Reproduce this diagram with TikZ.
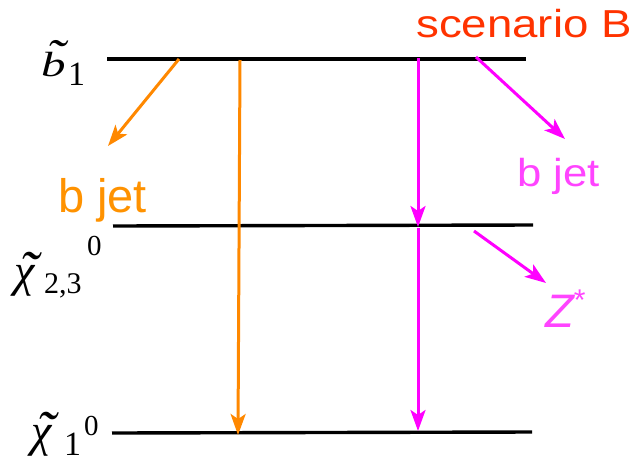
\documentclass[tikz,border=0pt]{standalone}
\usepackage{fontspec}
\setsansfont{Liberation Sans}
\newfontfamily\tms{Liberation Serif}
\usetikzlibrary{arrows.meta}
\definecolor{orng}{HTML}{FF8800}
\definecolor{orngtxt}{HTML}{FF9200}
\definecolor{mgnt}{HTML}{FF00FF}
\definecolor{mgnttxt}{HTML}{FF44FF}
\definecolor{scred}{HTML}{FF3300}
% letter with a wide tilde: #1 letter, #2 shift right, #3 raise, #4 x-scale, #5 y-scale
\newcommand{\tld}[5]{\ooalign{#1\cr\hidewidth\kern#2\kern#2\raisebox{#3}{\scalebox{#4}[#5]{\char"02DC}}\hidewidth\cr}}
\tikzset{
  level/.style={line width=3.4pt, black},
  decay/.style={line width=3pt, -{Stealth[length=21pt,width=15pt,inset=5pt]}},
  orangearrow/.style={decay, orng},
  magentaarrow/.style={decay, mgnt},
  mainlbl/.style={inner sep=0pt, anchor=base west, font=\tms\itshape\fontsize{#1}{#1}\selectfont},
  idxlbl/.style={inner sep=0pt, anchor=base west, font=\tms\fontsize{#1}{#1}\selectfont},
  sanslbl/.style={inner sep=0pt, anchor=base west, font=\sffamily\fontsize{47}{56}\selectfont},
}
\begin{document}
\begin{tikzpicture}[x=1pt,y=-1pt]
\useasboundingbox (0,0) rectangle (636,461);
% level lines
\coordinate (b1L) at (107,59);  \coordinate (b1R) at (526,59);
\coordinate (c2L) at (113,226); \coordinate (c2R) at (533,225);
\coordinate (c1L) at (112,433); \coordinate (c1R) at (532,432);
\draw[level] (b1L) -- (b1R);
\draw[level] (c2L) -- (c2R);
\draw[level] (c1L) -- (c1R);
% labels: sbottom 1
\node[mainlbl=35] (lb1) at (41,76) {\scalebox{1.4}[1]{\tld{b}{1.5pt}{3pt}{1.15}{1.4}}};
\node[idxlbl=34] (lb1s) at (68,85) {1};
% neutralino 2,3
\node[mainlbl=46] (lc23) at (14,286) {\tld{χ}{5pt}{-6pt}{1.25}{1.3}};
\node[idxlbl=30] (lc23s) at (44,293) {2,3};
\node[idxlbl=29] (lc23p) at (87,255) {0};
% neutralino 1
\node[mainlbl=46] (lc1) at (31,446) {\tld{χ}{5pt}{-6pt}{1.25}{1.3}};
\node[idxlbl=34] (lc1s) at (64,455) {1};
\node[idxlbl=29] (lc1p) at (84,435) {0};
% scenario A (orange)
\coordinate (oa) at (179,59); \coordinate (oaE) at (108,146);
\coordinate (ob) at (240,60); \coordinate (obE) at (238,435);
\draw[orangearrow] (oa) -- (oaE);
\draw[orangearrow] (ob) -- (obE);
\node[sanslbl, text=orngtxt] (bjA) at (58,212) {b jet};
% scenario B (magenta)
\coordinate (m1) at (418,58); \coordinate (m1E) at (418,227);
\coordinate (m2) at (418,228); \coordinate (m2E) at (418,431);
\coordinate (m3) at (476,57); \coordinate (m3E) at (565,139);
\coordinate (m4) at (474,231); \coordinate (m4E) at (546,283);
\draw[magentaarrow] (m1) -- (m1E);
\draw[magentaarrow] (m2) -- (m2E);
\draw[magentaarrow] (m3) -- (m3E);
\draw[magentaarrow] (m4) -- (m4E);
\node[inner sep=0pt, anchor=base west, text=mgnttxt, font=\sffamily\fontsize{39}{46}\selectfont] (bjB) at (517,186) {\scalebox{1.12}[1]{b jet}};
\node[sanslbl, text=mgnttxt] (zst) at (545,327) {\itshape Z\raisebox{17pt}{\fontsize{30}{34}\selectfont\upshape *}};
\node[inner sep=0pt, anchor=base west, text=scred, font=\sffamily\fontsize{39}{46}\selectfont] (scB) at (416,37) {\scalebox{1.17}[1]{scenario B}};
\end{tikzpicture}
\end{document}
